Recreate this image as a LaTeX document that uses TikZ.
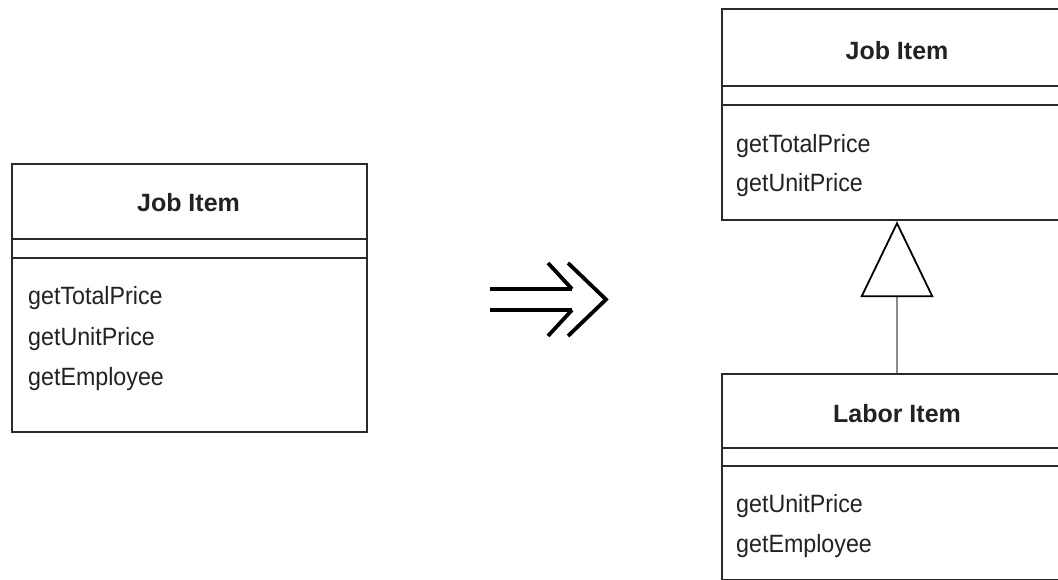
\documentclass[tikz,border=0pt]{standalone}
\usepackage{fontspec}
\setmainfont{Liberation Sans}
\newfontfamily\narrowfont[FakeStretch=0.93]{Liberation Sans}
\usetikzlibrary{arrows.meta}
\definecolor{ink}{HTML}{222222}
\definecolor{edge}{HTML}{2A2A2A}
\definecolor{linkgray}{HTML}{8A8A8A}
\tikzset{
  classbox/.style={draw=edge, line width=2.2pt, fill=none, inner sep=0pt, anchor=north west},
  divider/.style={draw=edge, line width=2.6pt},
  classtitle/.style={anchor=base, inner sep=0pt, text=ink, font=\fontsize{25}{30}\selectfont\bfseries},
  method/.style={anchor=base west, inner sep=0pt, text=ink, font=\narrowfont\fontsize{25}{30}\selectfont},
  inherit/.style={draw=linkgray, line width=2.4pt, -{Triangle[open, length=76pt, width=73pt, color=black, line width=1.8pt]}},
  refactor/.style={draw=black, line width=3.8pt, line cap=butt, line join=miter}
}
\begin{document}
\begin{tikzpicture}[x=1pt, y=-1pt]
\useasboundingbox (0,0) rectangle (1058,580);
\clip (0,0) rectangle (1058,580);
\fill[white] (0,0) rectangle (1058,580);

% left class
\node[classbox, minimum width=355pt, minimum height=268pt] (jobL) at (11,163) {};
\draw[divider] (jobL.west |- 0,239) -- (jobL.east |- 0,239);
\draw[divider] (jobL.west |- 0,258) -- (jobL.east |- 0,258);
\node[classtitle] (jobLtitle) at (188.5,212) {Job Item};
\node[method] (jobLm1) at (28,305) {getTotalPrice};
\node[method] (jobLm2) at (28,345) {getUnitPrice};
\node[method] (jobLm3) at (28,385) {getEmployee};

% refactoring arrow
\coordinate (a1) at (490,289);
\coordinate (a2) at (572,289);
\coordinate (a3) at (490,310);
\coordinate (a4) at (572,310);
\draw[refactor] (a1) -- (a2);
\draw[refactor] (a3) -- (a4);
\draw[refactor] (548,263) -- (a2);
\draw[refactor] (a4) -- (548,336);
\draw[refactor] (568,263) -- (606,299.5) -- (568,336);

% right top class
\node[classbox, minimum width=355pt, minimum height=211pt] (jobR) at (721,8) {};
\draw[divider] (jobR.west |- 0,86) -- (jobR.east |- 0,86);
\draw[divider] (jobR.west |- 0,105) -- (jobR.east |- 0,105);
\node[classtitle] (jobRtitle) at (897,60) {Job Item};
\node[method] (jobRm1) at (736,153) {getTotalPrice};
\node[method] (jobRm2) at (736,192) {getUnitPrice};

% labor class
\node[classbox, minimum width=355pt, minimum height=206pt] (labor) at (721,373) {};
\draw[divider] (labor.west |- 0,448) -- (labor.east |- 0,448);
\draw[divider] (labor.west |- 0,466) -- (labor.east |- 0,466);
\node[classtitle] (laborTitle) at (897,422) {Labor Item};
\node[method] (laborM1) at (736,512) {getUnitPrice};
\node[method] (laborM2) at (736,552) {getEmployee};

% generalization
\draw[inherit] (labor.north -| 897,0) -- (jobR.south -| 897,0);
\end{tikzpicture}
\end{document}
